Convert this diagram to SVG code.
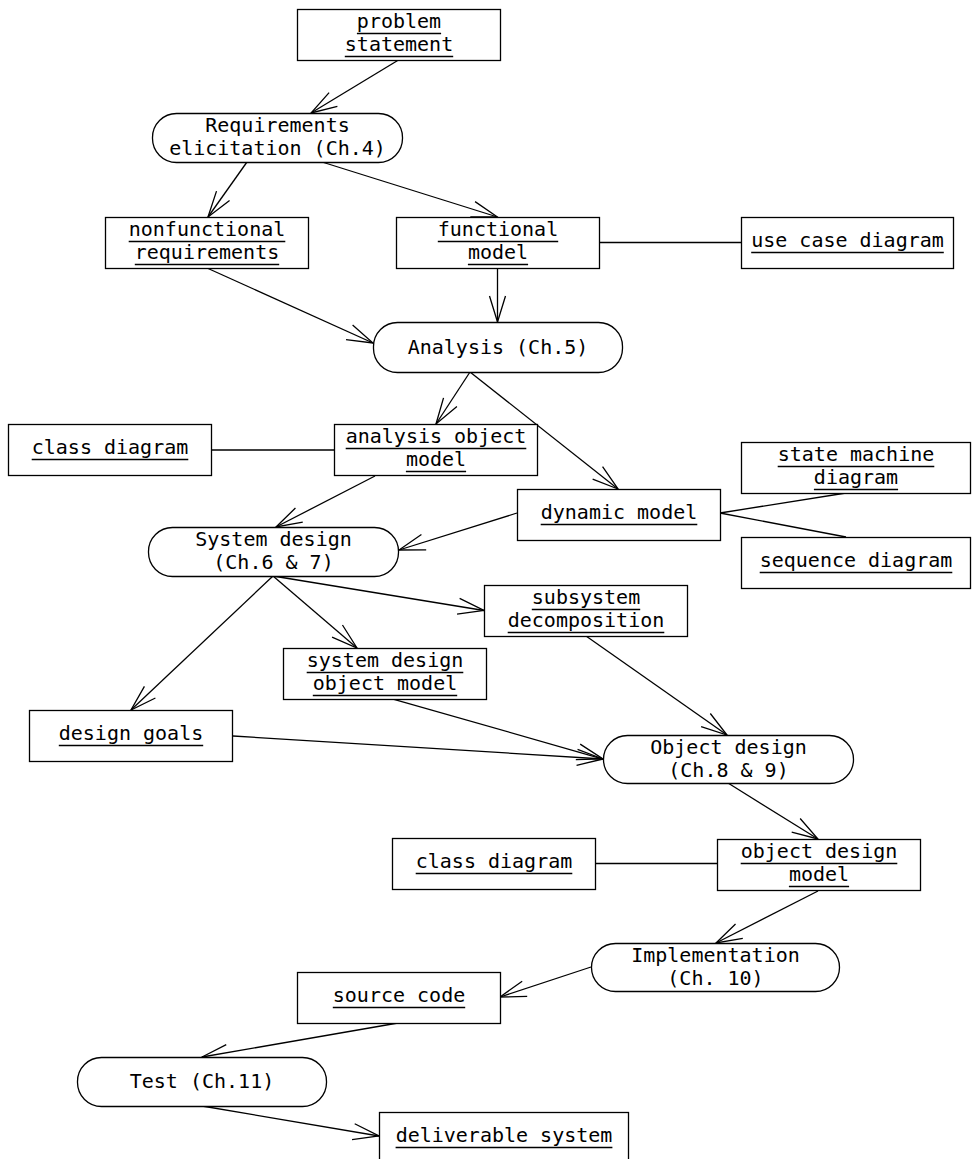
<svg xmlns="http://www.w3.org/2000/svg" width="972" height="1159" viewBox="0 0 972 1159">
<style>
.b{fill:#fff;stroke:#000;stroke-width:1.3}
.t{font-family:"DejaVu Sans Mono","Liberation Mono",monospace;font-size:20px;fill:#000;text-anchor:middle}
.u{stroke:#000;stroke-width:1.4}
.c{fill:none;stroke:#000;stroke-width:1.3}
.a{marker-end:url(#ah)}
</style>
<defs>
<marker id="ah" markerUnits="userSpaceOnUse" markerWidth="30" markerHeight="20" viewBox="-28 -10 30 20" refX="0" refY="0" orient="auto" overflow="visible">
<path d="M-26,-8 L0,0 L-26,8" fill="none" stroke="#000" stroke-width="1.3"/>
</marker>
</defs>
<rect width="972" height="1159" fill="#fff"/>
<g id="connectors">
<line class="c a" x1="398.5" y1="60" x2="311" y2="113"/>
<line class="c a" x1="247" y1="162" x2="208" y2="217"/>
<line class="c a" x1="322" y1="162" x2="497.5" y2="217"/>
<line class="c a" x1="497.5" y1="268" x2="497.5" y2="322"/>
<line class="c a" x1="207" y1="268" x2="373" y2="343"/>
<line class="c" x1="599" y1="242.5" x2="741" y2="242.5"/>
<line class="c a" x1="470" y1="372" x2="436" y2="424"/>
<line class="c a" x1="470" y1="372" x2="618" y2="489"/>
<line class="c" x1="212" y1="450" x2="334" y2="450"/>
<line class="c a" x1="375" y1="476" x2="276" y2="527"/>
<line class="c a" x1="517" y1="513" x2="399" y2="550"/>
<line class="c" x1="720" y1="513" x2="846" y2="493"/>
<line class="c" x1="720" y1="513" x2="846" y2="537"/>
<line class="c a" x1="273" y1="576" x2="131" y2="710"/>
<line class="c a" x1="273" y1="576" x2="357" y2="648"/>
<line class="c a" x1="273" y1="576" x2="484" y2="610.5"/>
<line class="c a" x1="586" y1="636" x2="727" y2="735"/>
<line class="c a" x1="393" y1="699" x2="603" y2="759"/>
<line class="c a" x1="233" y1="736" x2="603" y2="759"/>
<line class="c a" x1="728" y1="783" x2="818" y2="839"/>
<line class="c" x1="595" y1="863.5" x2="717" y2="863.5"/>
<line class="c a" x1="818" y1="891" x2="716" y2="943"/>
<line class="c a" x1="591" y1="967" x2="500" y2="997"/>
<line class="c a" x1="398" y1="1023" x2="202" y2="1057"/>
<line class="c a" x1="202" y1="1106" x2="379" y2="1136"/>
</g>
<g id="problem-statement">
<rect class="b" x="297.5" y="9.5" width="203" height="51"/>
<text class="t" x="399" y="27.5">problem</text><line class="u" x1="356.9" y1="33.5" x2="441.1" y2="33.5"/>
<text class="t" x="399" y="50.5">statement</text><line class="u" x1="344.8" y1="56.5" x2="453.2" y2="56.5"/>
</g>
<g id="requirements-elicitation">
<rect class="b" x="152.5" y="113.5" width="250" height="49" rx="24" ry="24"/>
<text class="t" x="277.5" y="131.5">Requirements</text>
<text class="t" x="277.5" y="154.5">elicitation (Ch.4)</text>
</g>
<g id="nonfunctional-requirements">
<rect class="b" x="105.5" y="217.5" width="203" height="51"/>
<text class="t" x="207" y="235.5">nonfunctional</text><line class="u" x1="128.7" y1="241.5" x2="285.3" y2="241.5"/>
<text class="t" x="207" y="258.5">requirements</text><line class="u" x1="134.8" y1="264.5" x2="279.2" y2="264.5"/>
</g>
<g id="functional-model">
<rect class="b" x="396.5" y="217.5" width="203" height="51"/>
<text class="t" x="498" y="235.5">functional</text><line class="u" x1="437.8" y1="241.5" x2="558.2" y2="241.5"/>
<text class="t" x="498" y="258.5">model</text><line class="u" x1="467.9" y1="264.5" x2="528.1" y2="264.5"/>
</g>
<g id="use-case-diagram">
<rect class="b" x="741.5" y="217.5" width="212" height="51"/>
<text class="t" x="847.5" y="246.5">use case diagram</text><line class="u" x1="751.2" y1="252.5" x2="943.8" y2="252.5"/>
</g>
<g id="analysis">
<rect class="b" x="373.5" y="322.5" width="249" height="50" rx="24" ry="24"/>
<text class="t" x="498" y="353.5">Analysis (Ch.5)</text>
</g>
<g id="class-diagram-1">
<rect class="b" x="8.5" y="424.5" width="203" height="51"/>
<text class="t" x="110" y="453.5">class diagram</text><line class="u" x1="31.7" y1="459.5" x2="188.3" y2="459.5"/>
</g>
<g id="analysis-object-model">
<rect class="b" x="334.5" y="424.5" width="203" height="51"/>
<text class="t" x="436" y="442.5">analysis object</text><line class="u" x1="345.7" y1="448.5" x2="526.3" y2="448.5"/>
<text class="t" x="436" y="465.5">model</text><line class="u" x1="405.9" y1="471.5" x2="466.1" y2="471.5"/>
</g>
<g id="dynamic-model">
<rect class="b" x="517.5" y="489.5" width="203" height="51"/>
<text class="t" x="619" y="518.5">dynamic model</text><line class="u" x1="540.7" y1="524.5" x2="697.3" y2="524.5"/>
</g>
<g id="state-machine-diagram">
<rect class="b" x="741.5" y="442.5" width="229" height="51"/>
<text class="t" x="856" y="460.5">state machine</text><line class="u" x1="777.7" y1="466.5" x2="934.3" y2="466.5"/>
<text class="t" x="856" y="483.5">diagram</text><line class="u" x1="813.9" y1="489.5" x2="898.1" y2="489.5"/>
</g>
<g id="sequence-diagram">
<rect class="b" x="741.5" y="537.5" width="229" height="51"/>
<text class="t" x="856" y="566.5">sequence diagram</text><line class="u" x1="759.7" y1="572.5" x2="952.3" y2="572.5"/>
</g>
<g id="system-design">
<rect class="b" x="148.5" y="527.5" width="250" height="49" rx="24" ry="24"/>
<text class="t" x="273.5" y="545.5">System design</text>
<text class="t" x="273.5" y="568.5">(Ch.6 &amp; 7)</text>
</g>
<g id="subsystem-decomposition">
<rect class="b" x="484.5" y="585.5" width="203" height="51"/>
<text class="t" x="586" y="603.5">subsystem</text><line class="u" x1="531.8" y1="609.5" x2="640.2" y2="609.5"/>
<text class="t" x="586" y="626.5">decomposition</text><line class="u" x1="507.7" y1="632.5" x2="664.3" y2="632.5"/>
</g>
<g id="system-design-object-model">
<rect class="b" x="283.5" y="648.5" width="203" height="51"/>
<text class="t" x="385" y="666.5">system design</text><line class="u" x1="306.7" y1="672.5" x2="463.3" y2="672.5"/>
<text class="t" x="385" y="689.5">object model</text><line class="u" x1="312.8" y1="695.5" x2="457.2" y2="695.5"/>
</g>
<g id="design-goals">
<rect class="b" x="29.5" y="710.5" width="203" height="51"/>
<text class="t" x="131" y="739.5">design goals</text><line class="u" x1="58.8" y1="745.5" x2="203.2" y2="745.5"/>
</g>
<g id="object-design">
<rect class="b" x="603.5" y="735.5" width="250" height="48" rx="24" ry="24"/>
<text class="t" x="728.5" y="753.5">Object design</text>
<text class="t" x="728.5" y="776.5">(Ch.8 &amp; 9)</text>
</g>
<g id="class-diagram-2">
<rect class="b" x="392.5" y="838.5" width="203" height="51"/>
<text class="t" x="494" y="867.5">class diagram</text><line class="u" x1="415.7" y1="873.5" x2="572.3" y2="873.5"/>
</g>
<g id="object-design-model">
<rect class="b" x="717.5" y="839.5" width="203" height="51"/>
<text class="t" x="819" y="857.5">object design</text><line class="u" x1="740.7" y1="863.5" x2="897.3" y2="863.5"/>
<text class="t" x="819" y="880.5">model</text><line class="u" x1="788.9" y1="886.5" x2="849.1" y2="886.5"/>
</g>
<g id="implementation">
<rect class="b" x="591.5" y="943.5" width="248" height="48" rx="24" ry="24"/>
<text class="t" x="715.5" y="961.5">Implementation</text>
<text class="t" x="715.5" y="984.5">(Ch. 10)</text>
</g>
<g id="source-code">
<rect class="b" x="297.5" y="972.5" width="203" height="51"/>
<text class="t" x="399" y="1001.5">source code</text><line class="u" x1="332.8" y1="1007.5" x2="465.2" y2="1007.5"/>
</g>
<g id="test">
<rect class="b" x="77.5" y="1057.5" width="249" height="49" rx="24" ry="24"/>
<text class="t" x="202" y="1088">Test (Ch.11)</text>
</g>
<g id="deliverable-system">
<rect class="b" x="379.5" y="1112.5" width="249" height="51"/>
<text class="t" x="504" y="1141.5">deliverable system</text><line class="u" x1="395.6" y1="1147.5" x2="612.4" y2="1147.5"/>
</g>
</svg>
